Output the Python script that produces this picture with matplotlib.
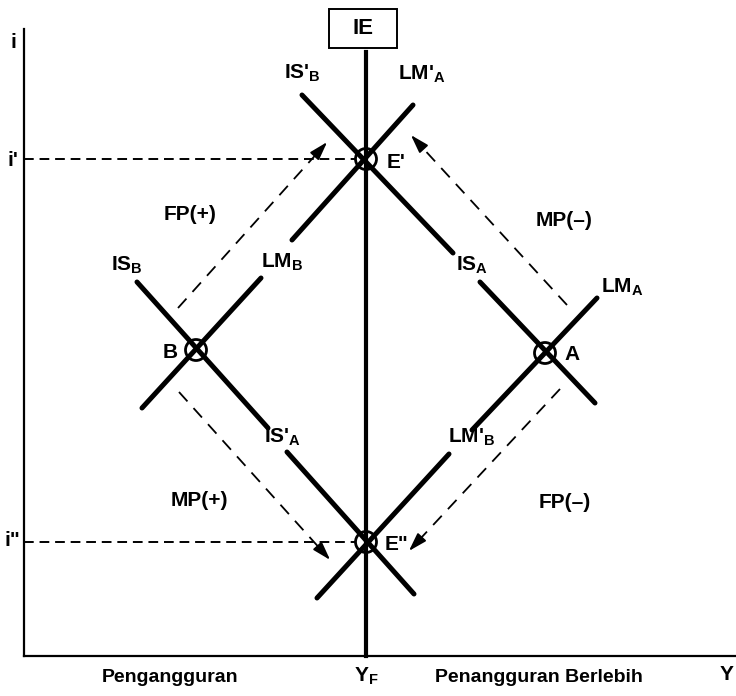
import matplotlib
matplotlib.use('Agg')
import matplotlib.pyplot as plt
from matplotlib.patches import Circle, Rectangle

plt.rcParams['font.family'] = ['Liberation Sans', 'DejaVu Sans']
plt.rcParams['font.weight'] = 'bold'
plt.rcParams['mathtext.default'] = 'regular'

# diagram units: output Y on x, interest rate i on y, origin at axes corner
Y_max = 712
i_max = 627
Y_F = 342
i_high = 497   # i'
i_low = 114    # i''

# equilibrium points
eq_Y = [342, 342, 521, 172]
eq_i = [497, 114, 303, 306]

# curve segments as (Y0, Y1), (i0, i1)
IS_B_prime = [(278, 429), (561, 403)]
IS_A = [(456, 571), (374, 253)]
LM_A_prime = [(389, 268), (551, 416)]
LM_B = [(237, 118), (378, 248)]
IS_B = [(113, 244), (374, 228)]
IS_A_prime = [(263, 390), (204, 62)]
LM_A = [(573, 448), (358, 226)]
LM_B_prime = [(425, 293), (202, 58)]

# policy arrows: start (Y, i) -> tip (Y, i)
arrow_start = [(154, 348), (543, 351), (155, 264), (536, 267)]
arrow_tip = [(305, 516), (385, 523), (308, 94), (383, 103)]

fig = plt.figure(figsize=(7.36, 6.96), dpi=100)
ax = fig.add_axes([0, 0, 1, 1])
ax.set_xlim(-24, 712)
ax.set_ylim(-40, 656)
ax.axis('off')

# axes
ax.plot([0, 0], [0, i_max], color='k', lw=1.6)
ax.plot([0, Y_max], [0, 0], color='k', lw=1.6)

# full employment line and IE box
ax.plot([Y_F, Y_F], [0, 604], color='k', lw=3.0)
ax.add_patch(Rectangle((305, 608), 68, 39, fill=False, ec='k', lw=1.4))
ax.text(339, 628, 'IE', ha='center', va='center', fontsize=16)

# interest rate guide lines
ax.plot([0, Y_F - 10], [i_high, i_high], color='k', lw=1.4, ls=(0, (5, 3)))
ax.plot([0, Y_F - 10], [i_low, i_low], color='k', lw=1.4, ls=(0, (5, 3)))

# IS and LM curves
for seg in [IS_B_prime, IS_A, LM_A_prime, LM_B, IS_B, IS_A_prime, LM_A, LM_B_prime]:
    ax.plot(seg[0], seg[1], color='k', lw=3.6, solid_capstyle='round')

# equilibrium markers
for y, i in zip(eq_Y, eq_i):
    ax.add_patch(Circle((y, i), 10.5, fill=False, ec='k', lw=2.0))

# dashed policy arrows
for (x0, y0), (x1, y1) in zip(arrow_start, arrow_tip):
    dx, dy = x1 - x0, y1 - y0
    ax.plot([x0, x1 - 0.06 * dx], [y0, y1 - 0.06 * dy], color='k', lw=1.3, ls=(0, (7, 5)))
    ax.annotate('', xy=(x1, y1), xytext=(x1 - 0.1 * dx, y1 - 0.1 * dy),
                arrowprops=dict(arrowstyle='-|>,head_length=0.8,head_width=0.25',
                                color='k', lw=1.3, mutation_scale=14))

fs = 15
labels = [
    (-11, 613, 'i'), (-11, 496, "i'"), (-12, 116, 'i"'),
    (278, 583, "IS'$_B$"), (398, 582, "LM'$_A$"),
    (166, 441, 'FP(+)'), (540, 436, 'MP(–)'),
    (103, 391, 'IS$_B$'), (258, 394, 'LM$_B$'), (146, 304, 'B'),
    (448, 391, 'IS$_A$'), (598, 369, 'LM$_A$'), (548, 301, 'A'),
    (259, 219, "IS'$_A$"), (448, 219, "LM'$_B$"),
    (175, 156, 'MP(+)'), (541, 153, 'FP(–)'),
    (342, -20, 'Y$_F$'), (703, -19, 'Y'),
]
for x, y, s in labels:
    ax.text(x, y, s, ha='center', va='center', fontsize=fs)

ax.text(146, -22, 'Pengangguran', ha='center', va='center', fontsize=14)
ax.text(515, -22, 'Penangguran Berlebih', ha='center', va='center', fontsize=14)
ax.text(363, 494, "E'", ha='left', va='center', fontsize=fs)
ax.text(361, 111, 'E"', ha='left', va='center', fontsize=fs)

fig.savefig('out.png', dpi=100)
